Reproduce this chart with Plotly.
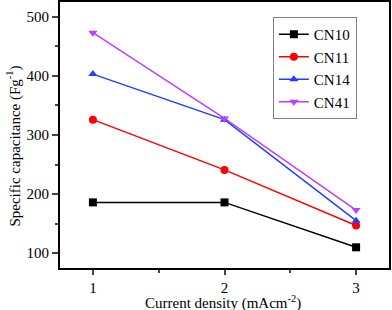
import plotly.graph_objects as go

x_vals = [1, 2, 3]
cn10 = [186, 186, 110]
cn11 = [326, 241, 147]
cn14 = [403, 326, 155]
cn41 = [473, 328, 173]
names = ["CN10", "CN11", "CN14", "CN41"]
series = [cn10, cn11, cn14, cn41]
colors = ["#000000", "#ff0000", "#1f3fff", "#bf3fff"]
symbols = ["square", "circle", "triangle-up", "triangle-down"]

fig = go.Figure()
for n, s, c, m in zip(names, series, colors, symbols):
    fig.add_trace(go.Scatter(x=x_vals, y=s, name=n, mode="lines+markers",
                             line=dict(color=c, width=1.5),
                             marker=dict(symbol=m, size=8, color=c)))

font = "Liberation Serif"
fig.update_layout(
    width=392, height=310,
    margin=dict(l=60, r=3, t=2, b=42),
    plot_bgcolor="white", paper_bgcolor="white",
    font=dict(family=font, size=15, color="black"),
    showlegend=True,
    legend=dict(x=0.647, y=0.944, xanchor="left", yanchor="top",
                bordercolor="#808080", borderwidth=1, bgcolor="white",
                font=dict(size=15, family=font), tracegroupgap=0),
    annotations=[
        dict(text="Current density (mAcm<sup>-2</sup>)", xref="paper", yref="paper",
             x=0.494, y=-0.128, xanchor="center", yanchor="middle", showarrow=False,
             font=dict(size=15, family=font)),
        dict(text="Specific capacitance (Fg<sup>-1</sup>)", xref="paper", yref="paper",
             x=-0.14, y=0.46, xanchor="center", yanchor="middle", textangle=-90,
             showarrow=False, font=dict(size=15, family=font)),
    ],
)
fig.update_xaxes(range=[0.75, 3.25], tickvals=[1, 2, 3], ticks="outside",
                 ticklen=5, tickwidth=1.5, linecolor="black", linewidth=2,
                 mirror=True, showgrid=False, zeroline=False, automargin=False,
                 minor=dict(tickvals=[1.5, 2.5], ticks="outside", ticklen=3, tickwidth=1.5))
fig.update_yaxes(range=[75, 525], tickvals=[100, 200, 300, 400, 500], ticks="outside",
                 ticklen=6, tickwidth=1.5, linecolor="black", linewidth=2,
                 mirror=True, showgrid=False, zeroline=False, automargin=False,
                 minor=dict(tickvals=[150, 250, 350, 450], ticks="outside", ticklen=3, tickwidth=1.5))

fig.write_html("out.html", config={"displayModeBar": False},
               post_script="document.body.style.margin='0';document.body.style.overflow='hidden';")
